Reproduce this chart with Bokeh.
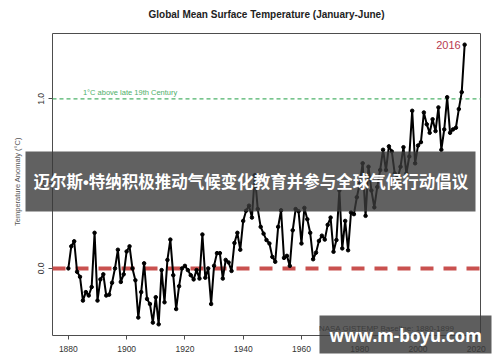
from bokeh.plotting import figure
from bokeh.models import Label, BoxAnnotation, FixedTicker, Range1d, ColumnDataSource, PrintfTickFormatter
from bokeh.embed import file_html
from bokeh.resources import INLINE

years = list(range(1880, 2017))
anomaly = [
    0.00, 0.13, 0.16, -0.02, -0.05, -0.19, -0.14, -0.16, -0.11, 0.21,      # 1880-1889
    -0.19, -0.065, -0.035, -0.16, -0.155, -0.085, 0.00, 0.11, -0.08, -0.035,  # 1890-1899
    0.10, 0.13, 0.00, -0.07, -0.29, -0.14, 0.03, -0.18, -0.21, -0.32,     # 1900-1909
    -0.17, -0.33, -0.01, -0.20, 0.05, 0.17, -0.04, -0.24, -0.105, 0.00,   # 1910-1919
    0.015, -0.01, -0.04, -0.065, -0.01, -0.06, 0.20, -0.055, 0.00, -0.21, # 1920-1929
    0.015, 0.09, 0.09, -0.06, 0.05, 0.035, -0.015, 0.15, 0.21, 0.11,      # 1930-1939
    0.28, 0.34, 0.37, 0.30, 0.55, 0.35, 0.245, 0.205, 0.167, 0.147,       # 1940-1949
    0.068, 0.039, 0.245, 0.343, 0.062, 0.074, 0.015, 0.225, 0.35, 0.337,  # 1950-1959
    0.147, 0.357, 0.29, 0.21, 0.054, 0.093, 0.162, 0.193, 0.17, 0.257,    # 1960-1969
    0.30, 0.098, 0.167, 0.46, 0.118, 0.28, 0.107, 0.33, 0.32, 0.42,       # 1970-1979
    0.50, 0.62, 0.31, 0.60, 0.46, 0.36, 0.48, 0.58, 0.70, 0.58,           # 1980-1989
    0.72, 0.69, 0.56, 0.53, 0.60, 0.715, 0.56, 0.66, 0.93, 0.62,          # 1990-1999
    0.725, 0.745, 0.92, 0.85, 0.80, 0.88, 0.81, 0.95, 0.70, 0.82,         # 2000-2009
    1.01, 0.80, 0.82, 0.83, 0.94, 1.04, 1.32,                             # 2010-2016
]
x_ticks = [1880, 1900, 1920, 1940, 1960, 1980, 2000, 2020]
y_ticks = [0.0, 0.5, 1.0]
baseline_value = 0.0
target_value = 1.0

title_text = "Global Mean Surface Temperature (January-June)"
y_label = "Temperature Anomaly (°C)"
target_label = "1°C above late 19th Century"
note_text = "NASA GISTEMP Baseline: 1880-1899"
banner_text = "迈尔斯•特纳积极推动气候变化教育并参与全球气候行动倡议"
watermark_text = "www.m-boyu.com"

# layout (pixels)
W, H = 500, 362
PL, PR, PT, PB = 52, 480, 33, 335   # plotting region box

# R-style data limits (4% extension)
xpad = (max(years) - min(years)) * 0.04
ypad = (max(anomaly) - min(anomaly)) * 0.04
xlo, xhi = min(years) - xpad, max(years) + xpad
ylo, yhi = min(anomaly) - ypad, max(anomaly) + ypad
sx = (xhi - xlo) / (PR - PL)
sy = (yhi - ylo) / (PB - PT)

p = figure(width=W, height=H, output_backend="svg", toolbar_location=None,
           x_range=Range1d(xlo - PL * sx, xhi + (W - PR) * sx),
           y_range=Range1d(ylo - (H - PB) * sy, yhi + PT * sy))
p.min_border = 0
p.min_border_left = 0
p.min_border_right = 0
p.min_border_top = 0
p.min_border_bottom = 0
p.background_fill_color = "white"
p.border_fill_color = "white"
p.outline_line_color = None
p.grid.visible = False

for ax in (p.xaxis[0], p.yaxis[0]):
    ax.axis_line_color = None
    ax.major_tick_in = 0
    ax.major_tick_out = 4
    ax.major_tick_line_color = "#4d4d4d"
    ax.minor_tick_line_color = None
    ax.major_label_text_font = "Liberation Sans"
    ax.major_label_text_font_size = "8.5px"
    ax.major_label_text_color = "#333333"

p.xaxis.fixed_location = ylo
p.xaxis.ticker = FixedTicker(ticks=x_ticks)
p.xaxis.major_label_standoff = 6
p.yaxis.fixed_location = xlo
p.yaxis.ticker = FixedTicker(ticks=y_ticks)
p.yaxis.formatter = PrintfTickFormatter(format="%.1f")
p.yaxis.major_label_orientation = "vertical"
p.yaxis.major_label_standoff = 4
p.yaxis.axis_label = y_label
p.yaxis.axis_label_text_font = "Liberation Sans"
p.yaxis.axis_label_text_font_style = "normal"
p.yaxis.axis_label_text_font_size = "7.5px"
p.yaxis.axis_label_text_color = "#555555"
p.yaxis.axis_label_standoff = 14

# plot box
p.add_layout(BoxAnnotation(left=xlo, right=xhi, bottom=ylo, top=yhi, fill_color=None,
                           fill_alpha=0, line_color="#4d4d4d", line_width=1, line_alpha=1,
                           level="underlay"))

# reference lines within the plot box
p.segment(x0=[xlo], y0=[baseline_value], x1=[xhi], y1=[baseline_value],
          line_color="#C9514F", line_width=4, line_dash="13 10")
p.segment(x0=[xlo], y0=[target_value], x1=[xhi], y1=[target_value],
          line_color="#4DB36A", line_width=1.3, line_dash="4 3")

src = ColumnDataSource(data=dict(year=years, anomaly=anomaly))
p.line("year", "anomaly", source=src, line_color="black", line_width=2)
p.scatter("year", "anomaly", source=src, size=3.5, color="black")

p.add_layout(Label(x=years[0] + 5, y=target_value, y_offset=2, text=target_label,
                   text_baseline="bottom", text_font="Liberation Sans",
                   text_font_size="7.5px", text_color="#4DAF6A"))
p.add_layout(Label(x=years[-1], y=anomaly[-1], x_offset=-4, text=str(years[-1]),
                   text_align="right", text_baseline="middle", text_font="Liberation Sans",
                   text_font_size="11px", text_color="#B83A4E"))

p.add_layout(Label(x=(PL + PR) / 2, y=14, x_units="canvas", y_units="canvas", text=title_text,
                   text_align="center", text_baseline="middle", text_font="Liberation Sans",
                   text_font_style="bold", text_font_size="10px", text_color="#222222"))
p.add_layout(Label(x=454, y=328, x_units="canvas", y_units="canvas", text=note_text,
                   text_align="right", text_baseline="middle", text_font="Liberation Sans",
                   text_font_size="8px", text_color="#444444"))

p.add_layout(BoxAnnotation(left=25, right=475, top=151, bottom=211,
                           left_units="canvas", right_units="canvas",
                           top_units="canvas", bottom_units="canvas",
                           fill_color="#3a3a3a", fill_alpha=0.8, line_color=None,
                           level="overlay"))
p.add_layout(Label(x=33, y=181, x_units="canvas", y_units="canvas", text=banner_text,
                   text_align="left", text_baseline="middle",
                   text_font="Liberation Sans, Noto Sans CJK SC",
                   text_font_style="bold", text_font_size="16.5px", text_color="white",
                   level="overlay"))

p.add_layout(BoxAnnotation(left=319, right=491, top=315, bottom=353,
                           left_units="canvas", right_units="canvas",
                           top_units="canvas", bottom_units="canvas",
                           fill_color="#3a3a3a", fill_alpha=0.82, line_color=None,
                           level="overlay"))
p.add_layout(Label(x=329, y=335, x_units="canvas", y_units="canvas", text=watermark_text,
                   text_align="left", text_baseline="middle", text_font="Noto Sans",
                   text_font_style="bold", text_font_size="17px", text_color="white",
                   level="overlay"))

open("out.html", "w").write(file_html(p, INLINE))
